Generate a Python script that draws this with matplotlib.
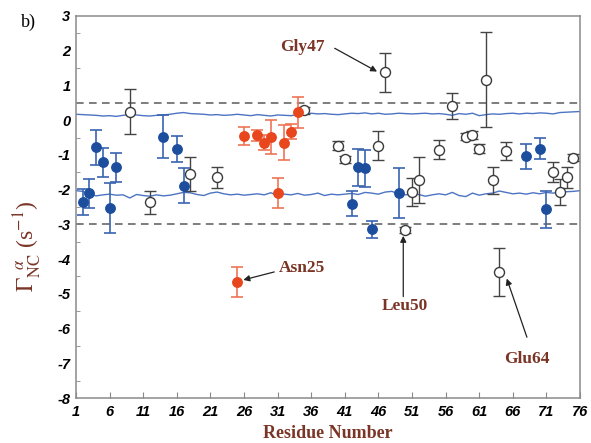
import matplotlib
matplotlib.use("Agg")
import matplotlib.pyplot as plt
import numpy as np

# ---------------- data ----------------
blue_res = [2, 3, 4, 5, 6, 7, 14, 16, 17, 42, 43, 44, 45, 49, 68, 70, 71]
blue_val = [-2.36, -2.11, -0.78, -1.21, -2.52, -1.36, -0.48, -0.83, -1.89,
            -2.41, -1.36, -1.39, -3.14, -2.10, -1.04, -0.82, -2.57]
blue_err = [0.37, 0.43, 0.50, 0.42, 0.72, 0.42, 0.62, 0.37, 0.50,
            0.36, 0.53, 0.53, 0.25, 0.72, 0.36, 0.30, 0.53]

red_res = [25, 26, 28, 29, 30, 31, 32, 33, 34]
red_val = [-4.65, -0.46, -0.44, -0.65, -0.49, -2.10, -0.65, -0.33, 0.23]
red_err = [0.43, 0.25, 0.16, 0.22, 0.49, 0.43, 0.51, 0.22, 0.45]

open_res = [9, 12, 18, 22, 35, 40, 41, 46, 47, 50, 51, 52, 55, 57, 59, 60, 61,
            62, 63, 64, 65, 72, 73, 74, 75]
open_val = [0.24, -2.37, -1.56, -1.65, 0.29, -0.73, -1.12, -0.73, 1.38, -3.16,
            -2.07, -1.73, -0.85, 0.41, -0.47, -0.43, -0.82, 1.16, -1.73, -4.36,
            -0.89, -1.49, -2.07, -1.64, -1.08]
open_err = [0.65, 0.33, 0.49, 0.30, 0.10, 0.12, 0.10, 0.43, 0.56, 0.08,
            0.40, 0.66, 0.27, 0.37, 0.10, 0.12, 0.12, 1.37, 0.39, 0.69,
            0.27, 0.30, 0.38, 0.30, 0.10]

band_res = list(range(1, 77))
band_upper = [0.17, 0.16, 0.15, 0.14, 0.12, 0.13, 0.11, 0.14, 0.16, 0.15,
              0.13, 0.12, 0.14, 0.15, 0.17, 0.20, 0.22, 0.19, 0.18, 0.17,
              0.15, 0.16, 0.14, 0.15, 0.17, 0.15, 0.13, 0.16, 0.14, 0.12,
              0.15, 0.14, 0.13, 0.16, 0.17, 0.20, 0.18, 0.19, 0.17, 0.16,
              0.18, 0.20, 0.19, 0.21, 0.18, 0.20, 0.17, 0.18, 0.20, 0.19,
              0.18, 0.19, 0.20, 0.18, 0.19, 0.17, 0.14, 0.19, 0.17, 0.20,
              0.13, 0.16, 0.18, 0.17, 0.19, 0.20, 0.18, 0.20, 0.19, 0.21,
              0.20, 0.18, 0.22, 0.23, 0.24, 0.25]
band_lower = [-2.03, -2.05, -2.12, -2.18, -2.15, -2.13, -2.16, -2.15, -2.24, -2.14,
              -2.17, -2.19, -2.15, -2.18, -2.16, -2.12, -2.08, -2.09, -2.14, -2.17,
              -2.10, -2.07, -2.12, -2.15, -2.13, -2.16, -2.14, -2.12, -2.15, -2.09,
              -2.17, -2.13, -2.15, -2.11, -2.16, -2.14, -2.10, -2.17, -2.13, -2.15,
              -2.13, -2.11, -2.14, -2.08, -2.10, -2.13, -2.07, -2.05, -2.12, -2.15,
              -2.13, -2.14, -2.19, -2.15, -2.12, -2.15, -2.08, -2.17, -2.20, -2.10,
              -2.16, -2.12, -2.10, -2.04, -2.08, -2.12, -2.10, -2.13, -2.09, -2.12,
              -2.08, -2.10, -2.07, -2.06, -2.05, -2.03]

thresholds = [0.5, -3.0]

x_ticks = [1, 6, 11, 16, 21, 26, 31, 36, 41, 46, 51, 56, 61, 66, 71, 76]
y_ticks = [-8, -7, -6, -5, -4, -3, -2, -1, 0, 1, 2, 3]

# annotations: (label, text position, arrow tail, arrow head)
annotations = [
    ("Gly47", (34.7, 2.12), (39.5, 2.07), (45.8, 1.40)),
    ("Asn25", (34.6, -4.26), (30.5, -4.37), (25.9, -4.60)),
    ("Leu50", (49.9, -5.36), (49.7, -5.08), (49.7, -3.33)),
    ("Glu64", (68.1, -6.88), (68.1, -6.25), (65.1, -4.56)),
]

# ---------------- style ----------------
BROWN = "#7a3526"
BLUE = "#1d4e9e"
BLUE_ERR = "#3a64b0"
RED = "#e8461c"
RED_ERR = "#ef7455"
OPEN_EDGE = "#3a3a3a"
LINE_BLUE = "#4d74c2"

plt.rcParams["mathtext.fontset"] = "stix"

fig = plt.figure(figsize=(5.91, 4.43), dpi=100)
ax = fig.add_axes([76 / 591, 1 - 398 / 443, (580 - 76) / 591, (398 - 16) / 443])

ax.plot(band_res, band_upper, color=LINE_BLUE, lw=1.0, zorder=1)
ax.plot(band_res, band_lower, color=LINE_BLUE, lw=1.0, zorder=1)
for t in thresholds:
    ax.axhline(t, color="#5a5a5a", lw=1.1, ls=(0, (5, 3.5)), zorder=1)

ms = 6.8
ax.errorbar(open_res, open_val, yerr=open_err, fmt="o", ms=ms + 0.4,
            mfc="white", mec=OPEN_EDGE, mew=1.0, ecolor="#444444",
            elinewidth=1.0, capsize=4.5, capthick=1.0, zorder=3)
ax.errorbar(blue_res, blue_val, yerr=blue_err, fmt="o", ms=ms,
            mfc=BLUE, mec=BLUE, ecolor=BLUE_ERR,
            elinewidth=1.2, capsize=4.5, capthick=1.2, zorder=4)
ax.errorbar(red_res, red_val, yerr=red_err, fmt="o", ms=ms,
            mfc=RED, mec=RED, ecolor=RED_ERR,
            elinewidth=1.2, capsize=4.5, capthick=1.2, zorder=4)

for label, tpos, tail, head in annotations:
    ax.text(tpos[0], tpos[1], label, color=BROWN, fontsize=12.5,
            fontweight="bold", family="Liberation Serif",
            ha="center", va="center", zorder=5)
    ax.annotate("", xy=head, xytext=tail,
                arrowprops=dict(arrowstyle="-|>", color="#222222", lw=0.9,
                                mutation_scale=9, shrinkA=0, shrinkB=0),
                zorder=5)

ax.set_xlim(1, 76)
ax.set_ylim(-8, 3)
ax.set_xticks(x_ticks)
ax.set_yticks(y_ticks)
ax.set_yticks(np.arange(-7.5, 3, 1.0), minor=True)
ax.set_xticklabels([str(v) for v in x_ticks])
ax.set_yticklabels([str(v).replace("\u2212", "-") for v in y_ticks])
for lab in ax.get_xticklabels() + ax.get_yticklabels():
    lab.set_family("Liberation Sans")
    lab.set_fontweight("bold")
    lab.set_fontstyle("italic")
    lab.set_fontsize(10.5)
ax.tick_params(axis="both", which="both", direction="in", color="#888888")
ax.tick_params(axis="x", which="major", length=4, pad=5)
ax.tick_params(axis="y", which="major", length=0, pad=4)
ax.tick_params(axis="y", which="minor", length=3)
ax.tick_params(top=False, right=False)
for sp in ax.spines.values():
    sp.set_color("#8a8a8a")
    sp.set_linewidth(1.1)

fig.text(328 / 591, 1 - 434 / 443, "Residue Number", color=BROWN, fontsize=13,
         fontweight="bold", family="Liberation Serif", ha="center", va="center")
fig.text(28 / 591, 1 - 246 / 443,
         r"$\Gamma_{\mathrm{NC}}^{\ \ \alpha}$ (s$^{-1}$)", color=BROWN,
         fontsize=17, rotation=90, ha="center", va="center",
         family="Liberation Serif")
fig.text(28 / 591, 1 - 22 / 443, "b)", color="black", fontsize=13,
         family="Liberation Serif", ha="center", va="center")

fig.savefig("out.png", dpi=100)
